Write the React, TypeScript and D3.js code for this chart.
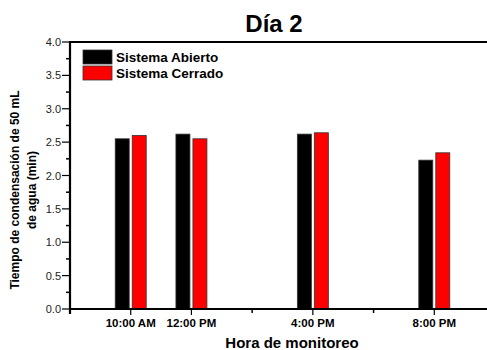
import React from "react";
import * as d3 from "d3";

// Monitoring hours (24h clock) and their labels
const hours = [10, 12, 16, 20];
const hourLabels = ["10:00 AM", "12:00 PM", "4:00 PM", "8:00 PM"];
const minorHours = [14, 18];

// Condensation time (min) for 50 mL of water
const abierto = [2.55, 2.62, 2.62, 2.23];
const cerrado = [2.6, 2.55, 2.64, 2.34];

const seriesNames = ["Sistema Abierto", "Sistema Cerrado"];
const seriesColors = ["#000000", "#ff0000"];

const yMajor = [0, 0.5, 1, 1.5, 2, 2.5, 3, 3.5, 4];
const yMinor = [0.25, 0.75, 1.25, 1.75, 2.25, 2.75, 3.25, 3.75];

const W = 487;
const H = 350;
const left = 70;
const top = 42;
const bottom = 309;

export default function App() {
  const x = d3.scaleLinear().domain([8, 22]).range([left, 495]);
  const y = d3.scaleLinear().domain([0, 4]).range([bottom, top]);
  const barW = 14;
  const gap = 1.5;
  const font = "Liberation Sans, Arial, sans-serif";
  const series = [abierto, cerrado];

  return (
    <svg
      width={W}
      height={H}
      style={{ position: "absolute", left: 0, top: 0, background: "#fff" }}
      fontFamily={font}
    >
      <text x={274} y={32} textAnchor="middle" fontSize={24} fontWeight="bold">
        Día 2
      </text>

      {/* bars */}
      {series.map((vals, si) =>
        vals.map((v, i) => {
          const cx = x(hours[i]);
          const x0 = si === 0 ? cx - gap - barW : cx + gap;
          return (
            <rect
              key={`${si}-${i}`}
              x={x0}
              y={y(v)}
              width={barW}
              height={bottom - y(v)}
              fill={seriesColors[si]}
              stroke="#333"
              strokeWidth={0.8}
            />
          );
        })
      )}

      {/* frame: top border, y axis, x axis */}
      <line x1={left} x2={W} y1={top} y2={top} stroke="#000" strokeWidth={2.2} />
      <line x1={left} x2={left} y1={top - 1} y2={bottom + 5} stroke="#000" strokeWidth={2.2} />
      <line x1={left} x2={W} y1={bottom} y2={bottom} stroke="#000" strokeWidth={2.2} />

      {/* y ticks */}
      {yMajor.map((t) => (
        <g key={`ym${t}`}>
          <line x1={left - 8} x2={left} y1={y(t)} y2={y(t)} stroke="#000" strokeWidth={1.2} />
          <text x={left - 9} y={y(t) + 4} textAnchor="end" fontSize={11} fill="#222">
            {d3.format(".1f")(t)}
          </text>
        </g>
      ))}
      {yMinor.map((t) => (
        <line key={`yn${t}`} x1={left - 4} x2={left} y1={y(t)} y2={y(t)} stroke="#000" strokeWidth={1.5} />
      ))}

      {/* x ticks */}
      {hours.map((h, i) => (
        <g key={`xm${h}`}>
          <line x1={x(h)} x2={x(h)} y1={bottom} y2={bottom + 6} stroke="#000" strokeWidth={1.2} />
          <text x={x(h)} y={327} textAnchor="middle" fontSize={11.5} fontWeight="bold">
            {hourLabels[i]}
          </text>
        </g>
      ))}
      {minorHours.map((h) => (
        <line key={`xn${h}`} x1={x(h)} x2={x(h)} y1={bottom} y2={bottom + 4} stroke="#000" strokeWidth={1.5} />
      ))}

      {/* axis titles */}
      <text x={292} y={348} textAnchor="middle" fontSize={15} fontWeight="bold">
        Hora de monitoreo
      </text>
      <g transform="translate(19,190) rotate(-90)">
        <text x={0} y={0} textAnchor="middle" fontSize={12} fontWeight="bold">
          Tiempo de condensación de 50 mL
        </text>
        <text x={0} y={17} textAnchor="middle" fontSize={12} fontWeight="bold">
          de agua (min)
        </text>
      </g>

      {/* legend */}
      {seriesNames.map((name, i) => (
        <g key={name} transform={`translate(83,${50 + i * 16})`}>
          <rect x={0} y={0} width={29} height={14} fill={seriesColors[i]} stroke="#333" strokeWidth={0.8} />
          <text x={33} y={12} fontSize={13.5} fontWeight="bold">
            {name}
          </text>
        </g>
      ))}
    </svg>
  );
}
